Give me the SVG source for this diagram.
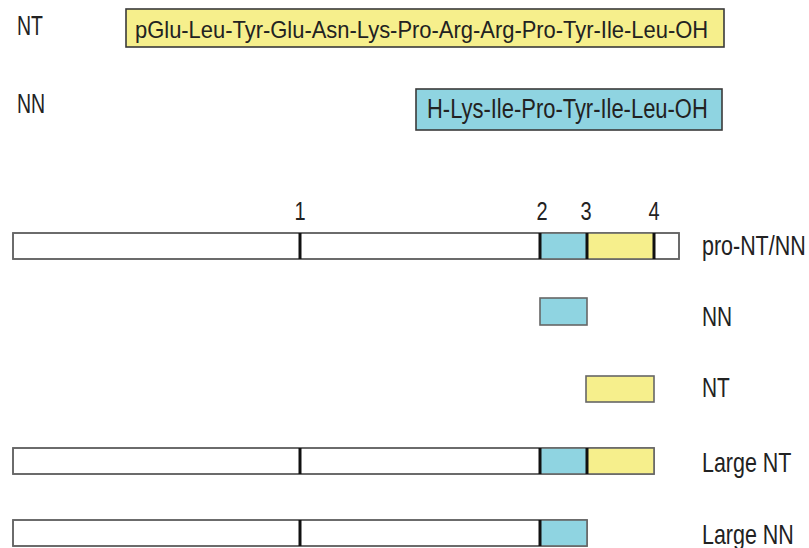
<svg xmlns="http://www.w3.org/2000/svg" width="809" height="548" viewBox="0 0 809 548">
<style>
text{font-family:"Liberation Sans",Arial,sans-serif;font-size:27.5px;fill:#222}
.num{text-anchor:middle;font-size:25px}
.p24{font-size:24px}
.p28{font-size:28px}
.pep{stroke:#3a3a3a;stroke-width:1.6}
.bar{fill:#fff;stroke:#666;stroke-width:1.6}
.cy{fill:#8fd4e1}
.ye{fill:#f6ef8c}
.seg{stroke:#666;stroke-width:1.6}
.div{stroke:#111;stroke-width:3}
</style>
<rect width="809" height="548" fill="#fff"/>
<g id="nt-peptide">
<text transform="translate(17,35) scale(0.71,1)">NT</text>
<rect class="pep ye" x="126" y="9" width="598" height="38"/>
<text class="p24" transform="translate(135,37.5) scale(0.914,1)">pGlu-Leu-Tyr-Glu-Asn-Lys-Pro-Arg-Arg-Pro-Tyr-Ile-Leu-OH</text>
</g>
<g id="nn-peptide">
<text transform="translate(17,113) scale(0.71,1)">NN</text>
<rect class="pep cy" x="416" y="89" width="306" height="41"/>
<text class="p28" transform="translate(427,118) scale(0.784,1)">H-Lys-Ile-Pro-Tyr-Ile-Leu-OH</text>
</g>
<g id="site-numbers">
<text class="num" transform="translate(300,220) scale(0.8,1)">1</text>
<text class="num" transform="translate(542,220) scale(0.8,1)">2</text>
<text class="num" transform="translate(586,220) scale(0.8,1)">3</text>
<text class="num" transform="translate(654,220) scale(0.8,1)">4</text>
</g>
<g id="pro-nt-nn">
<rect class="bar" x="13" y="233" width="666" height="26"/>
<rect class="cy" x="540" y="233" width="47" height="26"/>
<rect class="ye" x="587" y="233" width="67" height="26"/>
<rect x="13" y="233" width="666" height="26" fill="none" stroke="#666" stroke-width="1.6"/>
<line class="div" x1="300" y1="233" x2="300" y2="259"/>
<line class="div" x1="540" y1="233" x2="540" y2="259"/>
<line class="div" x1="587" y1="233" x2="587" y2="259"/>
<line class="div" x1="654" y1="233" x2="654" y2="259"/>
<text transform="translate(702,255) scale(0.78,1)">pro-NT/NN</text>
</g>
<g id="nn">
<rect class="cy seg" x="540" y="298" width="47" height="27"/>
<text transform="translate(702,326) scale(0.76,1)">NN</text>
</g>
<g id="nt">
<rect class="ye seg" x="586" y="376" width="68" height="26"/>
<text transform="translate(702,397) scale(0.76,1)">NT</text>
</g>
<g id="large-nt">
<rect class="bar" x="13" y="448" width="641" height="26"/>
<rect class="cy" x="540" y="448" width="47" height="26"/>
<rect class="ye" x="587" y="448" width="67" height="26"/>
<rect x="13" y="448" width="641" height="26" fill="none" stroke="#666" stroke-width="1.6"/>
<line class="div" x1="300" y1="448" x2="300" y2="474"/>
<line class="div" x1="540" y1="448" x2="540" y2="474"/>
<line class="div" x1="587" y1="448" x2="587" y2="474"/>
<text transform="translate(702,472) scale(0.78,1)">Large NT</text>
</g>
<g id="large-nn">
<rect class="bar" x="13" y="520" width="574" height="26"/>
<rect class="cy" x="540" y="520" width="47" height="26"/>
<rect x="13" y="520" width="574" height="26" fill="none" stroke="#666" stroke-width="1.6"/>
<line class="div" x1="300" y1="520" x2="300" y2="546"/>
<line class="div" x1="540" y1="520" x2="540" y2="546"/>
<text transform="translate(702,544) scale(0.78,1)">Large NN</text>
</g>
</svg>
